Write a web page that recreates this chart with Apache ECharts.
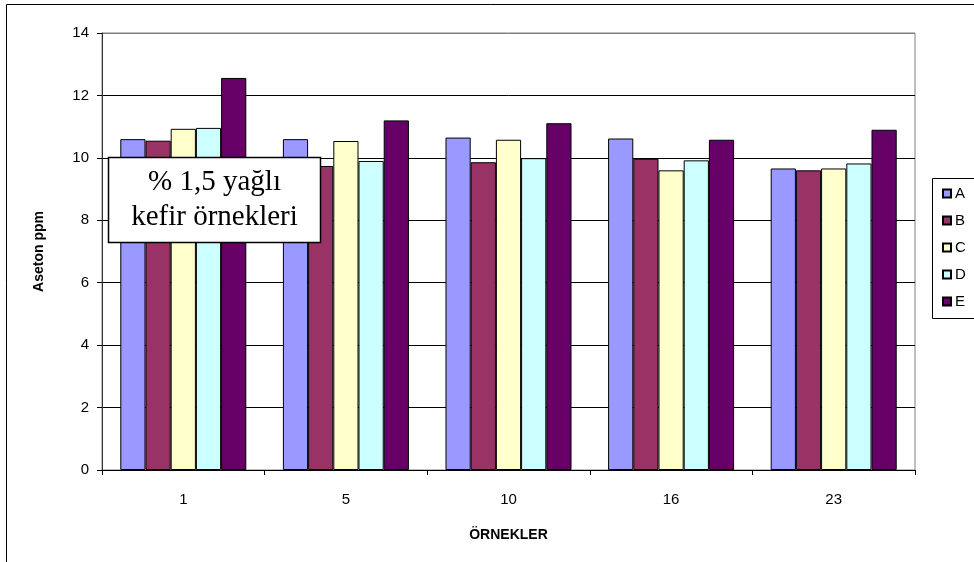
<!DOCTYPE html>
<html>
<head>
<meta charset="utf-8">
<script src="https://cdn.jsdelivr.net/npm/echarts@6/dist/echarts.min.js"></script>
<style>
  html, body { margin: 0; padding: 0; background: #fff; }
  #chart { width: 974px; height: 562px; }
</style>
</head>
<body>
<div id="chart"></div>
<script>
// Sample days
const categories = ['1', '5', '10', '16', '23'];
// Acetone (ppm) per kefir group
const seriesNames = ['A', 'B', 'C', 'D', 'E'];
const valuesA = [10.6, 10.6, 10.65, 10.62, 9.66];
const valuesB = [10.55, 9.74, 9.86, 9.97, 9.6];
const valuesC = [10.93, 10.54, 10.58, 9.6, 9.66];
const valuesD = [10.96, 9.9, 9.99, 9.92, 9.82];
const valuesE = [12.56, 11.2, 11.11, 10.58, 10.9];
const yTicks = [0, 2, 4, 6, 8, 10, 12, 14];

const colors = ['#9999FF', '#993366', '#FFFFCC', '#CCFFFF', '#660066'];
const allValues = [valuesA, valuesB, valuesC, valuesD, valuesE];

const font = 'Liberation Sans, Arial, sans-serif';

const chart = echarts.init(document.getElementById('chart'));

chart.setOption({
  animation: false,
  backgroundColor: '#ffffff',
  grid: {
    left: 102, right: 59, top: 33, bottom: 92,
    show: true, borderColor: '#808080', borderWidth: 1
  },
  xAxis: {
    type: 'category',
    data: categories,
    name: 'ÖRNEKLER',
    nameLocation: 'middle',
    nameGap: 58,
    nameTextStyle: { fontFamily: font, fontSize: 14, fontWeight: 'bold', color: '#000' },
    axisLine: { lineStyle: { color: '#000', width: 1 } },
    axisTick: { show: true, alignWithLabel: false, length: 5, lineStyle: { color: '#000' } },
    axisLabel: { fontFamily: font, fontSize: 15, color: '#000', margin: 22 }
  },
  yAxis: {
    type: 'value',
    min: yTicks[0],
    max: yTicks[yTicks.length - 1],
    interval: yTicks[1] - yTicks[0],
    name: 'Aseton ppm',
    nameLocation: 'middle',
    nameGap: 56,
    nameTextStyle: { fontFamily: font, fontSize: 14, fontWeight: 'bold', color: '#000' },
    axisLine: { show: true, lineStyle: { color: '#333', width: 1 } },
    axisTick: { show: true, length: 5, lineStyle: { color: '#000' } },
    axisLabel: { fontFamily: font, fontSize: 15, color: '#000', margin: 13 },
    splitLine: {
      show: true,
      lineStyle: { color: ['#000', '#000', '#000', '#000', '#000', '#000', '#000', '#808080'], width: 1 }
    }
  },
  legend: {
    orient: 'vertical',
    left: 942,
    top: 186,
    padding: 0,
    itemWidth: 8,
    itemHeight: 8,
    itemGap: 12,
    icon: 'rect',
    textStyle: { fontFamily: font, fontSize: 15, color: '#000', padding: [0, 0, 0, -1] },
    data: seriesNames
  },
  series: seriesNames.map((name, i) => ({
    name: name,
    type: 'bar',
    data: allValues[i],
    barGap: '0%',
    barCategoryGap: '22.5%',
    itemStyle: { color: colors[i], borderColor: '#000', borderWidth: 1 }
  })),
  graphic: [
    {
      type: 'rect',
      z: 100,
      silent: true,
      shape: { x: 6.5, y: 4.5, width: 1200, height: 1200 },
      style: { fill: 'none', stroke: '#000', lineWidth: 1 }
    },
    {
      type: 'rect',
      z: 100,
      silent: true,
      shape: { x: 932.5, y: 178.5, width: 80, height: 140 },
      style: { fill: 'none', stroke: '#000', lineWidth: 1 }
    },
    {
      type: 'group',
      z: 100,
      children: [
        {
          type: 'rect',
          z: 100,
          shape: { x: 108.5, y: 157.5, width: 212, height: 85 },
          style: { fill: '#fff', stroke: '#000', lineWidth: 1.5 }
        },
        {
          type: 'text',
          z: 101,
          style: {
            x: 214.5, y: 200, text: '% 1,5 yağlı\nkefir örnekleri',
            align: 'center', verticalAlign: 'middle',
            font: '29px "Liberation Serif", "Times New Roman", serif',
            lineHeight: 35, fill: '#000'
          }
        }
      ]
    }
  ]
});
</script>
</body>
</html>
